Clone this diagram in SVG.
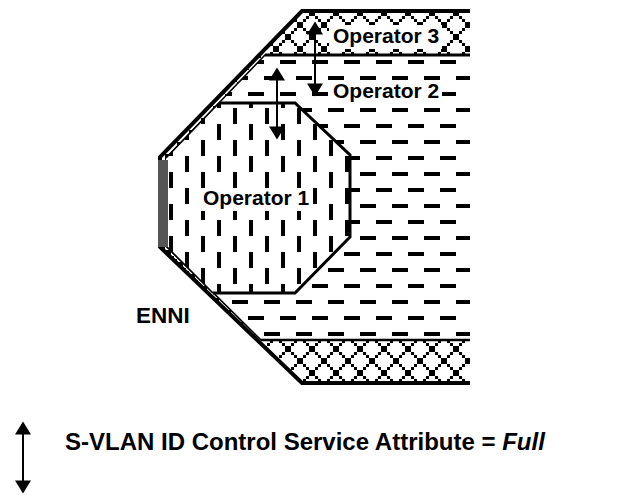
<svg xmlns="http://www.w3.org/2000/svg" width="623" height="496" viewBox="0 0 623 496">
<style>
.lbl{font-family:"Liberation Sans",Arial,Helvetica,sans-serif;font-weight:bold;fill:#000}
.ln{fill:none;stroke:#000;stroke-linejoin:miter}
.bg{fill:#fff}
.arr{stroke:#000;stroke-width:2;marker-start:url(#ah);marker-end:url(#ah)}
</style>
<defs>
<marker id="ah" markerUnits="userSpaceOnUse" markerWidth="16" markerHeight="18" viewBox="0 -9 16 18" refX="0.5" refY="0" orient="auto-start-reverse" overflow="visible">
<path d="M0,-8 L13,0 L0,8 Z" fill="#000"/>
</marker>
<pattern id="hdash" patternUnits="userSpaceOnUse" x="0" y="0" width="32" height="32">
<rect x="8" y="12" width="16" height="4" fill="#000"/>
<rect x="0" y="28" width="8" height="4" fill="#000"/>
<rect x="24" y="28" width="8" height="4" fill="#000"/>
</pattern>
<pattern id="vdash" patternUnits="userSpaceOnUse" x="0" y="0" width="32" height="32">
<rect x="9" y="12" width="4" height="16" fill="#000"/>
<rect x="25" y="28" width="4" height="4" fill="#000"/>
<rect x="25" y="0" width="4" height="12" fill="#000"/>
</pattern>
<pattern id="weave" patternUnits="userSpaceOnUse" x="0" y="13" width="24" height="24">
<rect width="24" height="24" fill="#fff"/>
<path d="M0,0h3v3h-3z M3,3h3v3h-3z M6,6h3v3h-3z M9,9h3v3h-3z M12,12h3v3h-3z M15,15h3v3h-3z M18,18h3v3h-3z M21,21h3v3h-3z M21,0h3v3h-3z M18,3h3v3h-3z M15,6h3v3h-3z M12,9h3v3h-3z M9,12h3v3h-3z M6,15h3v3h-3z M3,18h3v3h-3z M0,21h3v3h-3z" fill="#000" shape-rendering="crispEdges"/>
</pattern>
</defs>

<g id="operator3">
<path d="M470,11 L302,11 L160,157 L160,247 L302,383 L470,383 Z" fill="url(#weave)"/>
<path class="ln" d="M470,11 L302,11 L160,157 L160,247 L302,383 L470,383" stroke-width="4"/>
<rect class="bg" x="329" y="25" width="113" height="24"/>
<text class="lbl" x="333" y="43" font-size="21">Operator 3</text>
</g>

<g id="operator2">
<path d="M470,55 L265,55 L166,158 L166,246 L261,340 L470,340 Z" fill="#fff"/>
<path d="M470,55 L265,55 L166,158 L166,246 L261,340 L470,340 Z" fill="url(#hdash)"/>
<path class="ln" d="M470,55 L265,55 L166,158 L166,246 L261,340 L470,340" stroke-width="1.6"/>
<path class="ln" d="M470,55 L265,55" stroke-width="3"/>
<path class="ln" d="M470,340 L261,340" stroke-width="2.4"/>
<rect class="bg" x="329" y="80" width="113" height="24"/>
<text class="lbl" x="333" y="98" font-size="21">Operator 2</text>
</g>

<g id="operator1">
<path d="M219,103 L295,103 L350,155 L350,237 L295,293 L213,293 L166,246 L166,158 Z" fill="#fff"/>
<path d="M219,103 L295,103 L350,155 L350,237 L295,293 L213,293 L166,246 L166,158 Z" fill="url(#vdash)"/>
<path class="ln" d="M219,103 L295,103 L350,155 L350,237 L295,293 L213,293" stroke-width="3"/>
<path class="ln" d="M213,293 L166,246 M166,158 L219,103" stroke-width="1.6"/>
<rect class="bg" x="199" y="188" width="110" height="23"/>
<text class="lbl" x="203" y="205" font-size="21">Operator 1</text>
</g>

<g id="enni">
<rect x="158" y="160" width="10" height="87" fill="#555"/>
<text class="lbl" x="136" y="322.5" font-size="22.5">ENNI</text>
</g>

<g id="connectors">
<line class="arr" x1="277" y1="80" x2="277" y2="127"/>
<line class="arr" x1="315" y1="34" x2="315" y2="84"/>
<line class="arr" x1="23" y1="434" x2="23" y2="481"/>
</g>

<g id="legend">
<text class="lbl" x="65" y="449.5" font-size="24">S-VLAN ID Control Service Attribute = <tspan font-style="italic">Full</tspan></text>
</g>
</svg>
